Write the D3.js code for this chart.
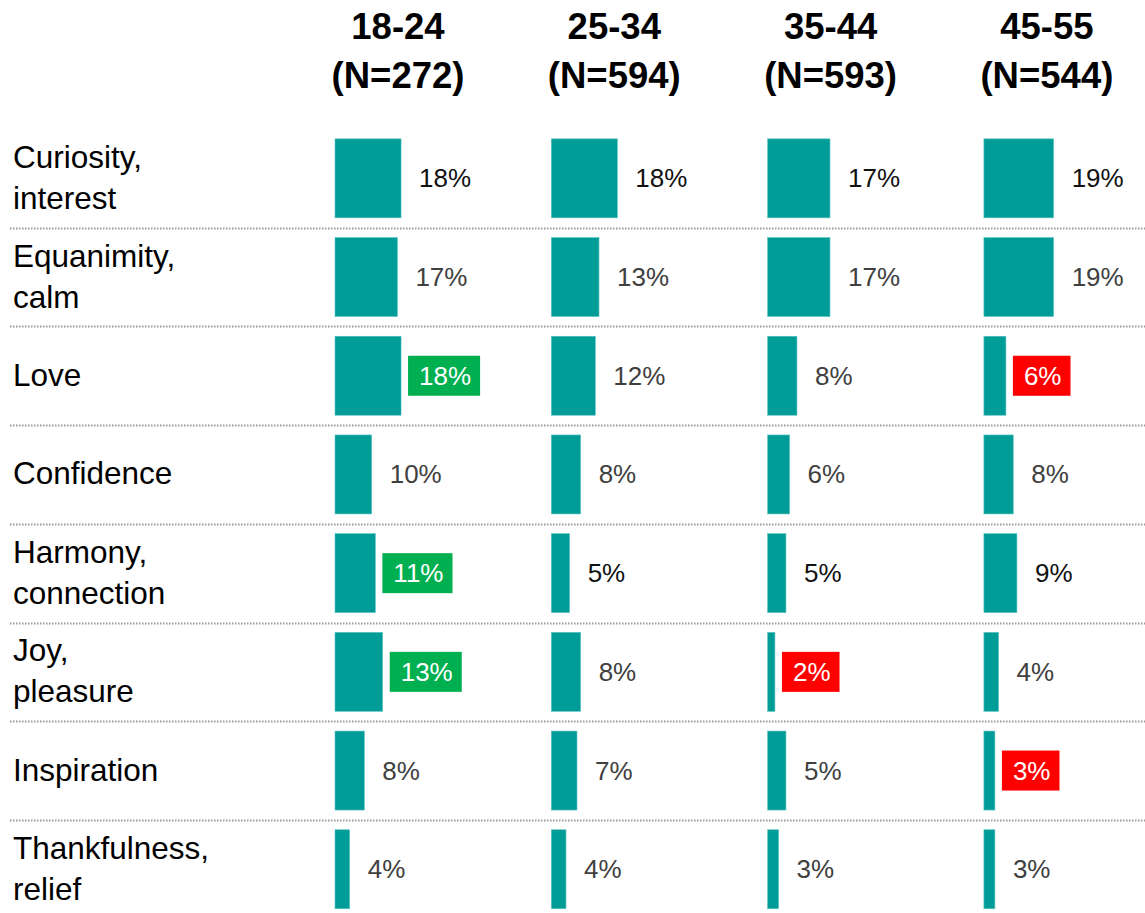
<!DOCTYPE html>
<html>
<head>
<meta charset="utf-8">
<script src="https://cdn.jsdelivr.net/npm/d3@7"></script>
<style>
	body { margin: 0; background: #fff; }
	svg { display: block; font-family: Arial, "Liberation Sans", sans-serif; }
</style>
</head>
<body>
<div id="chart"></div>
<script>
// categories (each one split into its display lines)
var emotions = [
	["Curiosity,", "interest"],
	["Equanimity,", "calm"],
	["Love"],
	["Confidence"],
	["Harmony,", "connection"],
	["Joy,", "pleasure"],
	["Inspiration"],
	["Thankfulness,", "relief"]
];

var ageGroups = ["18-24", "25-34", "35-44", "45-55"];
var sampleSizes = [272, 594, 593, 544];

// share (%) per age group, same order as emotions
var values1824 = [18, 17, 18, 10, 11, 13, 8, 4];
var values2534 = [18, 13, 12, 8, 5, 8, 7, 4];
var values3544 = [17, 17, 8, 6, 5, 2, 5, 3];
var values4555 = [19, 19, 6, 8, 9, 4, 3, 3];

// label flags: "up" = green box, "down" = red box, "dark" = black text, "" = grey text
var flags1824 = ["dark", "", "up", "", "up", "up", "", ""];
var flags2534 = ["dark", "", "", "", "dark", "", "", ""];
var flags3544 = ["dark", "", "", "", "dark", "down", "", ""];
var flags4555 = ["dark", "", "down", "", "dark", "", "down", ""];

var groupValues = [values1824, values2534, values3544, values4555];
var groupFlags = [flags1824, flags2534, flags3544, flags4555];

var WIDTH = 1145, HEIGHT = 913;
var COLORS = {
	bar: "#009c98",
	barEdge: "#5fc4c1",
	up: "#00b050",
	down: "#ff0000",
	dark: "#111111",
	grey: "#404040",
	rule: "#9a9a9a"
};

var cells = [];
ageGroups.forEach(function(g, gi) {
	emotions.forEach(function(e, ei) {
		cells.push({
			group: g,
			emotion: e.join(" "),
			value: groupValues[gi][ei],
			flag: groupFlags[gi][ei]
		});
	});
});

var svg = d3.select("#chart").append("svg")
	.attr("width", WIDTH)
	.attr("height", HEIGHT);

var yScale = d3.scaleBand()
	.domain(emotions.map(function(e) { return e.join(" "); }))
	.range([129, 129 + 8 * 98.7]);

var colScale = d3.scaleBand()
	.domain(ageGroups)
	.range([335, 335 + 4 * 216.3]);

var xScale = d3.scaleLinear()
	.domain([0, 20])
	.range([0, 73.4]);

var barH = 79;
function rowCenter(name) { return yScale(name) + yScale.bandwidth() / 2; }

// dotted separators between rows
svg.append("g").selectAll("line")
	.data(yScale.domain().slice(1))
	.enter().append("line")
	.attr("x1", 10)
	.attr("x2", WIDTH)
	.attr("y1", function(d) { return Math.round(yScale(d)) + 0.5; })
	.attr("y2", function(d) { return Math.round(yScale(d)) + 0.5; })
	.attr("stroke", COLORS.rule)
	.attr("stroke-width", 2)
	.attr("stroke-dasharray", "1.5,1.5");

// column headers
var header = svg.append("g").selectAll("text")
	.data(ageGroups)
	.enter().append("text")
	.attr("text-anchor", "middle")
	.attr("font-size", 36.5)
	.attr("font-weight", "bold")
	.attr("fill", "#000");
header.append("tspan")
	.attr("x", function(d) { return colScale(d) + 63; })
	.attr("y", 39)
	.text(function(d) { return d; });
header.append("tspan")
	.attr("x", function(d) { return colScale(d) + 63; })
	.attr("y", 88)
	.text(function(d, i) { return "(N=" + sampleSizes[i] + ")"; });

// row labels
var lineH = 41;
svg.append("g").selectAll("text")
	.data(emotions)
	.enter().append("text")
	.attr("font-size", 31.5)
	.attr("fill", "#000")
	.each(function(lines) {
		var c = rowCenter(lines.join(" "));
		var t = d3.select(this);
		lines.forEach(function(l, k) {
			t.append("tspan")
				.attr("x", 13)
				.attr("y", c + 10 + (k - (lines.length - 1) / 2) * lineH)
				.text(l);
		});
	});

// bars
svg.append("g").selectAll("rect")
	.data(cells)
	.enter().append("rect")
	.attr("x", function(d) { return colScale(d.group); })
	.attr("y", function(d) { return rowCenter(d.emotion) - barH / 2; })
	.attr("width", function(d) { return xScale(d.value); })
	.attr("height", barH)
	.attr("fill", COLORS.bar)
	.attr("stroke", COLORS.barEdge)
	.attr("stroke-width", 0.6);

// value labels (with coloured boxes where flagged)
var labels = svg.append("g").selectAll("g")
	.data(cells)
	.enter().append("g");

labels.append("rect").attr("class", "box");
labels.append("text")
	.attr("x", function(d) { return colScale(d.group) + xScale(d.value) + 18; })
	.attr("y", function(d) { return rowCenter(d.emotion) + 9; })
	.attr("font-size", 26)
	.attr("fill", function(d) {
		if (d.flag === "up" || d.flag === "down") return "#fff";
		return d.flag === "dark" ? COLORS.dark : COLORS.grey;
	})
	.text(function(d) { return d.value + "%"; });

labels.each(function(d) {
	var box = d3.select(this).select("rect.box");
	if (d.flag !== "up" && d.flag !== "down") { box.remove(); return; }
	var w = d3.select(this).select("text").node().getComputedTextLength();
	box.attr("x", colScale(d.group) + xScale(d.value) + 7)
		.attr("y", rowCenter(d.emotion) - 20)
		.attr("width", w + 20)
		.attr("height", 40)
		.attr("fill", d.flag === "up" ? COLORS.up : COLORS.down);
});
</script>
</body>
</html>
